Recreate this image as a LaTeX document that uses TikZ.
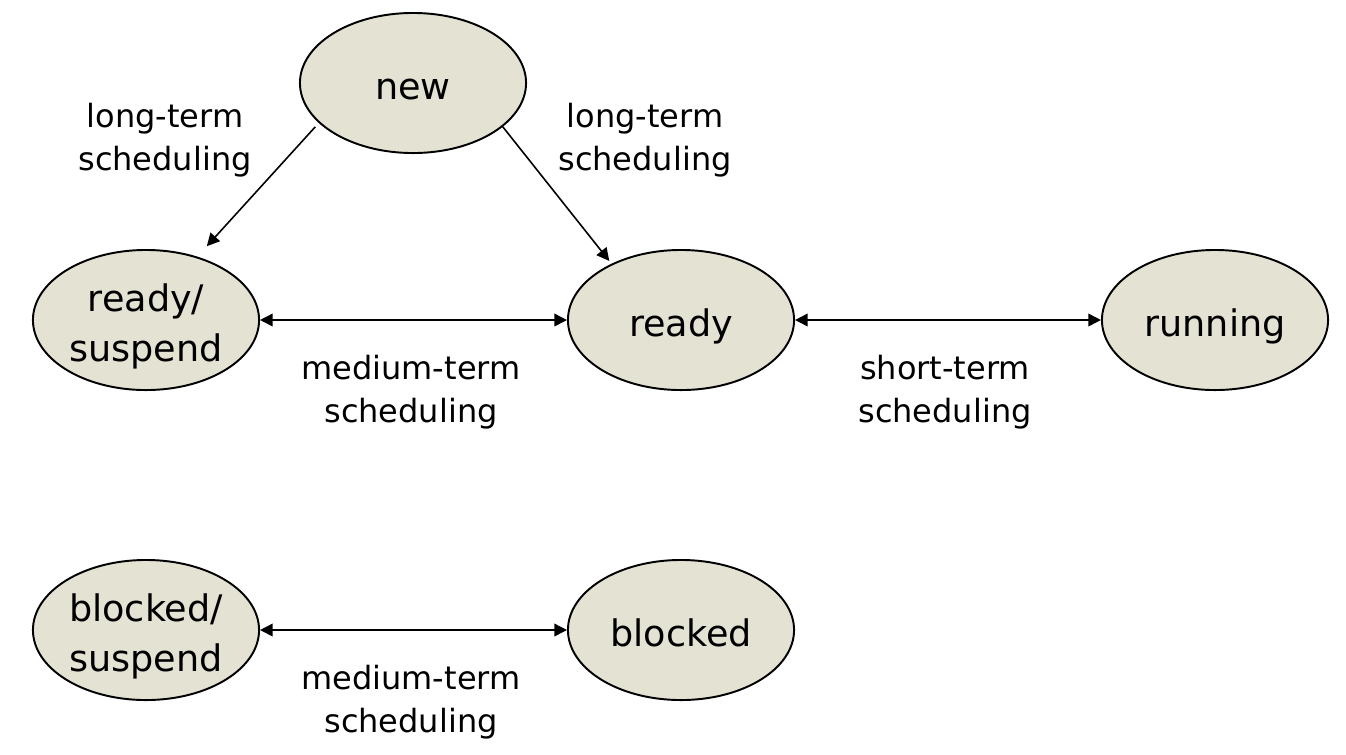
\documentclass[tikz,border=0pt]{standalone}
\usepackage{fontspec}
\setmainfont{DejaVu Sans}
\usepackage{xcolor}
\usepackage{tikz}
\usetikzlibrary{shapes.geometric,arrows.meta}
\definecolor{statefill}{HTML}{E3E2D3}

\begin{document}
\begin{tikzpicture}[
  x=0.01cm, y=-0.01cm,
  state/.style={draw, ellipse, fill=statefill, line width=0.55pt, minimum width=2.26cm, minimum height=1.4cm, inner sep=0pt, align=center, text height=9.1pt, text depth=0pt, font=\fontsize{10.4}{14.1}\selectfont},
  twoline/.style={text height=23.4pt},
  sched/.style={align=center, font=\fontsize{9.1}{12.2}\selectfont},
  trans/.style={-{Triangle[length=3.6pt,width=3.6pt]}, line width=0.45pt},
  swap/.style={{Triangle[length=3.6pt,width=3.6pt]}-{Triangle[length=3.6pt,width=3.6pt]}, line width=0.45pt}
]
\useasboundingbox (0,0) rectangle (1346,754);
\node[state] (new) at (413,83) {new};
\node[state, twoline] (readysusp) at (146,320) {ready/\\suspend};
\node[state] (ready) at (681,320) {ready};
\node[state] (running) at (1215,320) {running};
\node[state, twoline] (blockedsusp) at (146,630) {blocked/\\suspend};
\node[state] (blocked) at (681,630) {blocked};
\node[sched] (ltleft) at (165,140) {long-term\\scheduling};
\node[sched] (ltright) at (645,140) {long-term\\scheduling};
\node[sched] (mtup) at (411,392) {medium-term\\scheduling};
\node[sched] (st) at (945,392) {short-term\\scheduling};
\node[sched] (mtdown) at (411,702) {medium-term\\scheduling};
\draw[trans, shorten <=1.5pt, shorten >=4pt] (new.203) -- (readysusp.51);
\draw[trans, shorten >=1pt] (new.-26) -- (ready.141);
\draw[swap] (readysusp.east) -- (ready.west);
\draw[swap] (ready.east) -- (running.west);
\draw[swap] (blockedsusp.east) -- (blocked.west);
\end{tikzpicture}
\end{document}
